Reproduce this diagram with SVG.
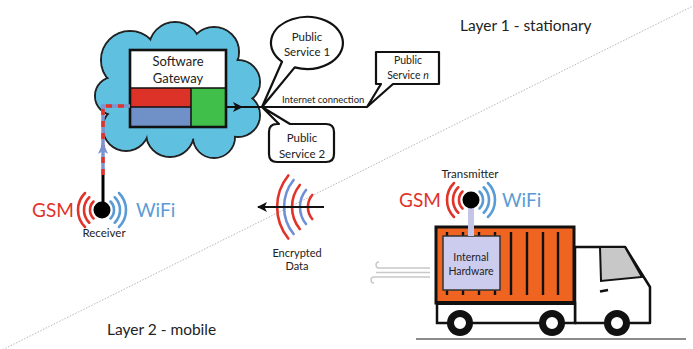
<svg xmlns="http://www.w3.org/2000/svg" width="693" height="349" viewBox="0 0 693 349">
  <style>
    text { font-family: Lato, "Liberation Sans", sans-serif; fill: #222; }
    .mid { text-anchor: middle; }
    .red { stroke: #e0332a; fill: none; stroke-width: 2.6; stroke-linecap: round; }
    .blue { stroke: #5b9bd5; fill: none; stroke-width: 2.6; stroke-linecap: round; }
    .eblue { stroke: #6f8fd6; fill: none; stroke-width: 2.6; stroke-linecap: round; }
    .callout { fill: #fff; stroke: #111; stroke-width: 2.2; stroke-linejoin: round; }
    .bar { stroke: #111; stroke-width: 2.4; }
    .wheel { fill: #fff; stroke: #111; stroke-width: 7; }
    .wind { stroke: #c8c8c8; fill: none; stroke-width: 1.4; }
    .gsm { fill: #e0332a; font-size: 19px; }
    .wifi { fill: #5b9bd5; font-size: 19px; }
  </style>
  <defs>
    <!-- antenna ball with GSM arcs on the left and WiFi arcs on the right -->
    <g id="signal">
      <path class="red" d="M -8.49 -8.49 A 12 12 0 0 0 -8.49 8.49 M -12.73 -12.73 A 18 18 0 0 0 -12.73 12.73 M -16.97 -16.97 A 24 24 0 0 0 -16.97 16.97"/>
      <path class="blue" d="M 8.49 -8.49 A 12 12 0 0 1 8.49 8.49 M 12.73 -12.73 A 18 18 0 0 1 12.73 12.73 M 16.97 -16.97 A 24 24 0 0 1 16.97 16.97"/>
      <circle r="8.5" fill="#000"/>
    </g>
    <marker id="arrowBlack" viewBox="0 0 10 10" refX="9" refY="5" markerWidth="10" markerHeight="10" markerUnits="userSpaceOnUse" orient="auto">
      <path d="M0 0 L10 5 L0 10 L2.5 5 Z" fill="#111"/>
    </marker>
  </defs>

  <!-- layer separator -->
  <line x1="0" y1="351" x2="693" y2="6" stroke="#b8b8b8" stroke-width="1" stroke-dasharray="1.5 1.5"/>

  <text x="460" y="31" font-size="15.5">Layer 1 - stationary</text>
  <text x="107" y="335" font-size="15.5">Layer 2 - mobile</text>

  <!-- cloud with software gateway -->
  <g id="gateway">
    <g stroke="#222" stroke-width="2" fill="#5fc0e0">
      <circle cx="130" cy="60" r="29"/>
      <circle cx="175" cy="48" r="26"/>
      <circle cx="214" cy="52" r="25"/>
      <circle cx="238" cy="82" r="22"/>
      <circle cx="238" cy="115" r="22"/>
      <circle cx="214" cy="137" r="21"/>
      <circle cx="170" cy="133" r="24"/>
      <circle cx="126" cy="128" r="23"/>
      <circle cx="114" cy="96" r="19"/>
    </g>
    <g fill="#5fc0e0">
      <circle cx="130" cy="60" r="28"/>
      <circle cx="175" cy="48" r="25"/>
      <circle cx="214" cy="52" r="24"/>
      <circle cx="238" cy="82" r="21"/>
      <circle cx="238" cy="115" r="21"/>
      <circle cx="214" cy="137" r="20"/>
      <circle cx="170" cy="133" r="23"/>
      <circle cx="126" cy="128" r="22"/>
      <circle cx="114" cy="96" r="18"/>
      <ellipse cx="178" cy="92" rx="66" ry="48"/>
    </g>
    <rect x="130" y="50" width="96" height="38" fill="#fff"/>
    <rect x="130" y="88" width="61" height="19" fill="#dd3228"/>
    <rect x="130" y="107" width="61" height="20" fill="#7090c8"/>
    <rect x="191" y="88" width="35" height="39" fill="#40bf4a"/>
    <path d="M130 88 H226 M191 88 V127 M130 107 H191" stroke="#111" stroke-width="1.5" fill="none"/>
    <rect x="130" y="50" width="96" height="77" fill="none" stroke="#111" stroke-width="2.6"/>
    <text class="mid" x="178" y="66" font-size="13">Software</text>
    <text class="mid" x="178" y="83" font-size="13">Gateway</text>
  </g>

  <!-- public services -->
  <g id="public-service-1">
    <path class="callout" d="M 294.7 67.4 L 262 107 L 282 61.7 A 36 26 0 1 1 294.7 67.4 Z"/>
    <text class="mid" x="307" y="41" font-size="11.5">Public</text>
    <text class="mid" x="307" y="56" font-size="11.5">Service 1</text>
  </g>
  <g id="public-service-2">
    <path class="callout" d="M 279 124 L 262 107 L 290 124 H 326 Q 334 124 334 132 V 154 Q 334 162 326 162 H 277 Q 269 162 269 154 V 132 Q 269 124 277 124 Z"/>
    <text class="mid" x="302" y="142" font-size="11.5">Public</text>
    <text class="mid" x="302" y="158" font-size="11.5">Service 2</text>
  </g>
  <g id="public-service-n">
    <path class="callout" d="M 376 52 H 439 V 84 H 393 L 367 107 L 381 84 H 376 Z" stroke-linejoin="miter"/>
    <text class="mid" x="408" y="64" font-size="10.5">Public</text>
    <text class="mid" x="408" y="79" font-size="10.5">Service <tspan font-style="italic">n</tspan></text>
  </g>

  <!-- receiver -->
  <g id="receiver">
    <line x1="103" y1="175" x2="103" y2="205" stroke="#000" stroke-width="3"/>
    <use href="#signal" x="102" y="210"/>
    <text class="gsm" x="32" y="217">GSM</text>
    <text class="wifi" x="136" y="217">WiFi</text>
    <text class="mid" x="104" y="237" font-size="11.5">Receiver</text>
  </g>

  <!-- encrypted data -->
  <g id="encrypted-data">
    <path class="red" d="M 288.3 175.5 A 50 50 0 0 0 288.3 238.5"/>
    <path class="eblue" d="M 293.6 180 A 43 43 0 0 0 293.6 234"/>
    <path class="red" d="M 299.8 185 A 35 35 0 0 0 299.8 229"/>
    <path class="eblue" d="M 306 190 A 27 27 0 0 0 306 224"/>
    <path class="red" d="M 312.2 195 A 19 19 0 0 0 312.2 219"/>
    <text class="mid" x="297" y="257" font-size="11">Encrypted</text>
    <text class="mid" x="297" y="270" font-size="11">Data</text>
  </g>

  <!-- truck -->
  <g id="truck">
    <g class="wind">
      <path d="M430 268 H379 a3 3 0 0 1 0 -6"/>
      <line x1="376" y1="272.5" x2="430" y2="272.5"/>
      <path d="M430 277 H374 a3 3 0 0 0 0 6"/>
    </g>
    <line x1="416" y1="339" x2="686" y2="339" stroke="#666" stroke-width="1.5"/>
    <path d="M 575 247 H 625 L 650 287 V 323 H 575 Z" fill="#fff" stroke="#111" stroke-width="2.5" stroke-linejoin="round"/>
    <path d="M 600 247 H 625 L 642 277 L 601 281 Z" fill="#c8c8c8" stroke="#111" stroke-width="2"/>
    <line x1="600" y1="291.5" x2="608" y2="290" stroke="#111" stroke-width="2.5"/>
    <rect x="437" y="303" width="138" height="20" fill="#fff" stroke="#111" stroke-width="2.5"/>
    <rect x="436" y="227" width="138" height="76" fill="#ef6420" stroke="#111" stroke-width="3"/>
    <g class="bar">
      <line x1="447" y1="232" x2="447" y2="295"/>
      <line x1="463" y1="232" x2="463" y2="295"/>
      <line x1="479" y1="232" x2="479" y2="295"/>
      <line x1="495" y1="232" x2="495" y2="295"/>
      <line x1="511" y1="232" x2="511" y2="295"/>
      <line x1="527" y1="232" x2="527" y2="295"/>
      <line x1="543" y1="232" x2="543" y2="295"/>
      <line x1="558" y1="232" x2="558" y2="295"/>
    </g>
    <line x1="436" y1="303" x2="574" y2="303" stroke="#111" stroke-width="4"/>
    <circle class="wheel" cx="460" cy="323" r="9.5"/>
    <circle class="wheel" cx="552" cy="323" r="9.5"/>
    <circle class="wheel" cx="617" cy="323" r="9.5"/>
  </g>

  <g id="internal-hardware">
    <rect x="443" y="236" width="57" height="54" fill="#ccccee" stroke="#333" stroke-width="1.5"/>
    <text class="mid" x="471" y="261" font-size="10.5">Internal</text>
    <text class="mid" x="471" y="275" font-size="10.5">Hardware</text>
  </g>

  <!-- transmitter -->
  <g id="transmitter">
    <line x1="471" y1="205" x2="471" y2="236" stroke="#c5c5e8" stroke-width="6"/>
    <use href="#signal" x="471" y="200"/>
    <text class="gsm" x="399" y="207">GSM</text>
    <text class="wifi" x="502" y="207">WiFi</text>
    <text class="mid" x="470" y="178" font-size="11.5">Transmitter</text>
  </g>

  <!-- connectors -->
  <g id="connectors">
    <!-- uplink from receiver into the gateway -->
    <path d="M103 175 V106 H130" fill="none" stroke="#7c94d0" stroke-width="3.5"/>
    <path d="M103 175 V106 H130" fill="none" stroke="#e0332a" stroke-width="3.5" stroke-dasharray="6 6"/>
    <path d="M103 142 L108 154 L103 151 L98 154 Z" fill="#7c94d0"/>
    <!-- gateway to internet -->
    <line x1="226" y1="107" x2="242" y2="107" stroke="#111" stroke-width="2" marker-end="url(#arrowBlack)"/>
    <line x1="240" y1="107" x2="367" y2="107" stroke="#111" stroke-width="2"/>
    <text x="282" y="102.5" font-size="9.5">Internet connection</text>
    <!-- wireless link -->
    <line x1="324" y1="207" x2="258" y2="207" stroke="#111" stroke-width="2" marker-end="url(#arrowBlack)"/>
  </g>
</svg>
